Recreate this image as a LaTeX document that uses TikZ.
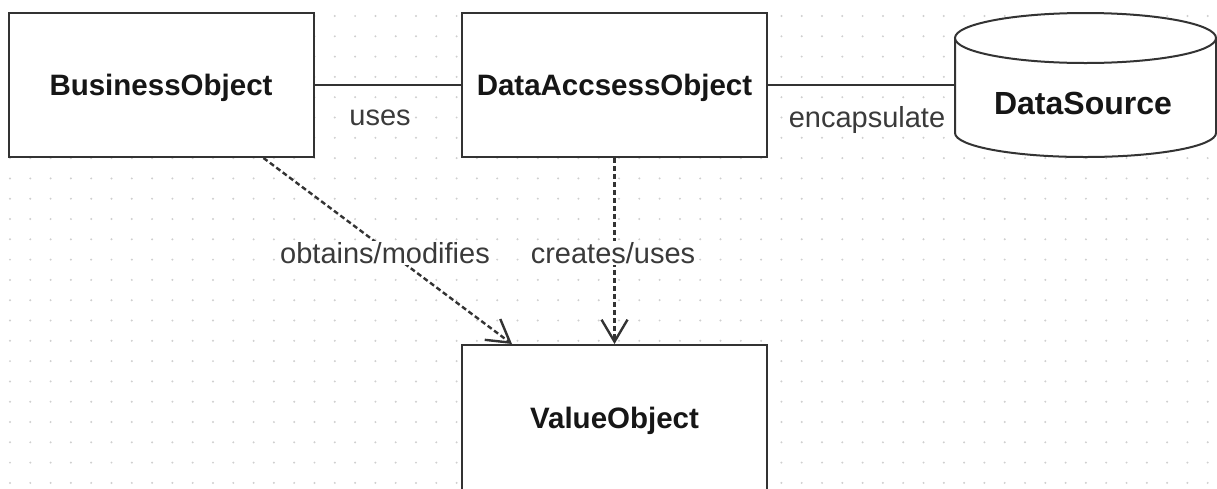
\documentclass[tikz,border=0pt]{standalone}
\usepackage{fontspec}
\setmainfont{Liberation Sans}
\usetikzlibrary{arrows.meta}
\definecolor{edgec}{HTML}{333333}
\definecolor{gridc}{HTML}{CFCFCF}
\definecolor{lblc}{HTML}{3A3A3A}
\definecolor{txtc}{HTML}{161616}
\begin{document}
\begin{tikzpicture}[x=1pt,y=-1pt,
  box/.style={draw=edgec, line width=2pt, fill=white, minimum width=305pt, minimum height=144pt, inner sep=0pt, text height=21.5pt, text depth=0pt, font=\fontsize{29.5}{34}\selectfont\bfseries, text=txtc},
  lab/.style={fill=white, inner sep=1pt, text=lblc, font=\fontsize{29}{34}\selectfont},
  dep/.style={draw=edgec, line width=2.4pt, dash pattern=on 5pt off 3pt, -{Straight Barb[length=22pt,width=26pt]}},
  assoc/.style={draw=edgec, line width=2pt}]
\clip (0,0) rectangle (1217,488);
\fill[white] (0,0) rectangle (1217,488);
\foreach \i in {0,...,60} {\foreach \j in {0,...,24} {\fill[gridc] (10+20.3*\i, 16+20.3*\j) circle (1.1pt);}}
% nodes
\node[box] (bo) at (161,85) {BusinessObject};
\node[box] (dao) at (614.5,85) {DataAccsessObject};
\node[box, minimum height=146pt] (vo) at (614.5,418) {ValueObject};
\node[minimum width=261pt, minimum height=144pt, inner sep=0pt] (ds) at (1085.5,85) {};
\fill[white] (955,38) -- (955,133) arc[start angle=180,end angle=0,x radius=130.5,y radius=24] -- (1216,38) -- cycle;
\draw[assoc] (955,38) -- (955,133) arc[start angle=180,end angle=0,x radius=130.5,y radius=24] -- (1216,38);
\draw[assoc, fill=white] (1085.5,38) ellipse [x radius=130.5, y radius=25];
\node[font=\fontsize{32}{36}\selectfont\bfseries, text=txtc, text height=23pt, text depth=0pt] (dst) at (1083,103) {DataSource};
% connectors
\draw[assoc] (bo) -- (dao);
\draw[assoc] (dao) -- (ds);
\draw[dep] ([xshift=-51pt]bo.south east) -- ([xshift=51pt]vo.north west);
\draw[dep] (dao.south) -- (vo.north);
% labels
\node[lab] (l1) at (380,118) {uses};
\node[lab] (l2) at (867,120) {encapsulate};
\node[lab] (l3) at (385,253) {obtains/modifies};
\node[lab] (l4) at (613,253) {creates/uses};
\end{tikzpicture}
\end{document}
